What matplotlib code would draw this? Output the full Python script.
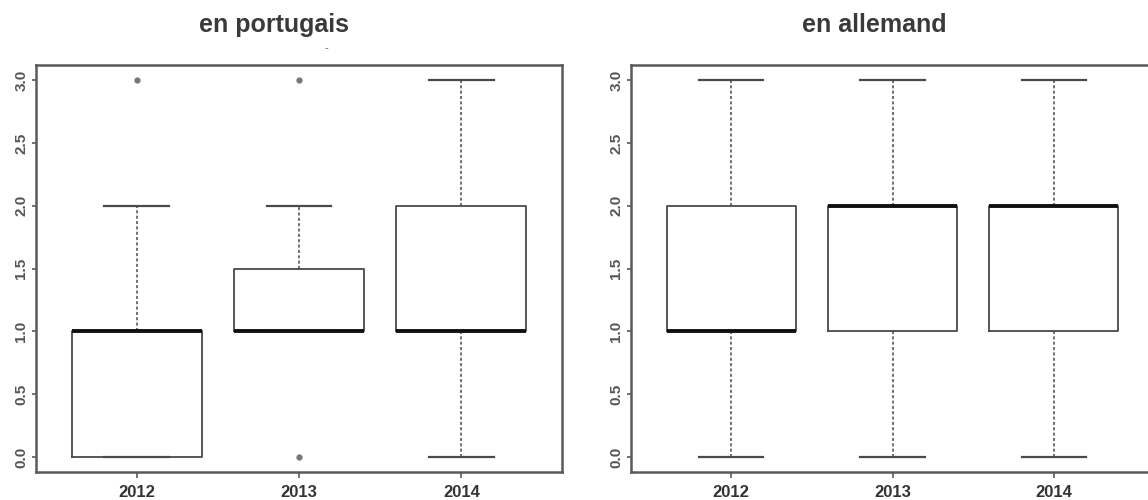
import matplotlib
matplotlib.use("Agg")
import matplotlib.pyplot as plt
from matplotlib import font_manager

plt.rcParams['font.family'] = ['Liberation Sans', 'DejaVu Sans']

years = ['2012', '2013', '2014']
titles = ['en portugais', 'en allemand']

# box statistics per panel
q1 = [[0.0, 1.0, 1.0], [1.0, 1.0, 1.0]]
med = [[1.0, 1.0, 1.0], [1.0, 2.0, 2.0]]
q3 = [[1.0, 1.5, 2.0], [2.0, 2.0, 2.0]]
whislo = [[0.0, 1.0, 0.0], [0.0, 0.0, 0.0]]
whishi = [[2.0, 2.0, 3.0], [3.0, 3.0, 3.0]]
fliers = [[[3.0], [3.0, 0.0], []], [[], [], []]]

yticks = [0.0, 0.5, 1.0, 1.5, 2.0, 2.5, 3.0]

line_col = '#4a4a4a'
spine_col = '#5a5a5a'

# condensed font for the year labels if there is one
try:
    font_manager.findfont(font_manager.FontProperties(family='Liberation Sans Narrow', weight='bold'),
                          fallback_to_default=False)
    xfam = ['Liberation Sans Narrow', 'DejaVu Sans']
    xsize = 14
except Exception:
    xfam = ['Liberation Sans', 'DejaVu Sans']
    xsize = 12

fig = plt.figure(figsize=(11.48, 5.0), dpi=100)
axes_pos = [[36 / 1148, 0.056, 526 / 1148, 0.814], [631 / 1148, 0.056, 523 / 1148, 0.814]]
title_x = [274 / 1148, 874 / 1148]

for p in range(2):
    ax = fig.add_axes(axes_pos[p])
    stats = []
    for i in range(3):
        stats.append({'q1': q1[p][i], 'med': med[p][i], 'q3': q3[p][i],
                      'whislo': whislo[p][i], 'whishi': whishi[p][i],
                      'fliers': fliers[p][i], 'label': years[i]})
    ax.bxp(stats, positions=[1, 2, 3], widths=0.8, showfliers=True,
           boxprops=dict(color=line_col, linewidth=1.3),
           medianprops=dict(color='#111111', linewidth=2.8, solid_capstyle='butt'),
           whiskerprops=dict(color=line_col, linewidth=1.1, linestyle=(0, (2, 1.5))),
           capprops=dict(color=line_col, linewidth=1.6),
           flierprops=dict(marker='o', markersize=3.5, markerfacecolor='#777777',
                           markeredgecolor='#777777'),
           capwidths=0.4)
    ax.set_xlim(0.38, 3.62)
    ax.set_ylim(-0.12, 3.12)
    ax.set_yticks(yticks)
    ax.set_yticklabels([f'{v:.1f}' for v in yticks], rotation=90, va='center',
                       fontsize=11, fontweight='bold', color='#555555')
    ax.set_xticks([1, 2, 3])
    ax.set_xticklabels(years, fontsize=xsize, fontweight='bold', color='#333333', family=xfam)
    ax.tick_params(axis='y', direction='out', length=3, width=1.2, color=spine_col, pad=2.5)
    ax.tick_params(axis='x', direction='out', length=4.5, width=1.2, color=spine_col, pad=5)
    for s in ax.spines.values():
        s.set_color(spine_col)
        s.set_linewidth(1.8)
    fig.text(title_x[p], 1 - 32 / 500, titles[p], ha='center', va='baseline', fontsize=18,
             fontweight='bold', color='#3a3a3a')

# small stray mark under the left title
fig.text(326 / 1148, 1 - 48 / 500, '-', ha='center', va='center', fontsize=8, color='#666666')

fig.savefig('out.png', dpi=100)
